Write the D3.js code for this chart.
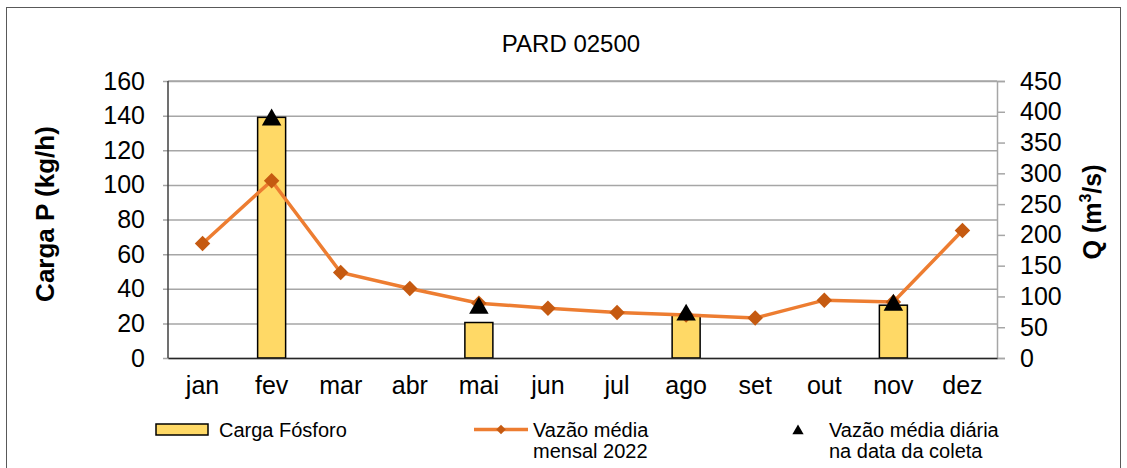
<!DOCTYPE html>
<html>
<head>
<meta charset="utf-8">
<script src="https://cdn.jsdelivr.net/npm/d3@7"></script>
<style>
  body { margin: 0; background: #fff; }
  text { font-family: Arial, "Liberation Sans", sans-serif; fill: #000; }
</style>
</head>
<body>
<div id="chart"></div>
<script>
// months on the x axis
const months = ['jan', 'fev', 'mar', 'abr', 'mai', 'jun', 'jul', 'ago', 'set', 'out', 'nov', 'dez'];
// carga de fósforo (kg/h), null where there was no sample
const carga = [null, 139, null, null, 20.5, null, null, 25, null, null, 30.5, null];
// vazão média mensal 2022 (m3/s)
const vazaoMensal = [186, 288, 139, 113, 89, 81, 74, 70, 65, 94, 91, 207];
// vazão média diária na data da coleta (m3/s)
const vazaoDiaria = [null, 387, null, null, 81, null, null, 70, null, null, 86, null];
const leftTicks = [0, 20, 40, 60, 80, 100, 120, 140, 160];
const rightTicks = [0, 50, 100, 150, 200, 250, 300, 350, 400, 450];

const W = 1127, H = 468;
const m = { left: 168, right: 130, top: 81, bottom: 110 };
const pw = W - m.left - m.right, ph = H - m.top - m.bottom;

const svg = d3.select('#chart').append('svg')
  .attr('width', W).attr('height', H);

// outer frame
svg.append('rect')
  .attr('x', 6.5).attr('y', 7.5).attr('width', 1114).attr('height', 470)
  .attr('fill', 'none').attr('stroke', '#595959').attr('stroke-width', 1);

svg.append('text')
  .attr('x', 571).attr('y', 52)
  .attr('text-anchor', 'middle')
  .style('font-size', '24px')
  .text('PARD 02500');

const g = svg.append('g').attr('transform', `translate(${m.left},${m.top})`);

const x = d3.scaleBand().domain(months).range([0, pw]);
const yL = d3.scaleLinear().domain([0, 160]).range([ph, 0]);
const yR = d3.scaleLinear().domain([0, 450]).range([ph, 0]);

// gridlines + left axis
const axL = g.append('g')
  .call(d3.axisLeft(yL).tickValues(leftTicks).tickSize(-pw).tickPadding(23));
axL.select('.domain').remove();
axL.selectAll('.tick line')
  .attr('x1', -5).attr('stroke', '#a6a6a6').attr('stroke-width', 1.5);
axL.selectAll('.tick text').style('font-size', '25px');

// right axis
const axR = g.append('g').attr('transform', `translate(${pw},0)`)
  .call(d3.axisRight(yR).tickValues(rightTicks).tickSize(8).tickPadding(15));
axR.select('.domain').attr('stroke', '#a6a6a6').attr('stroke-width', 1.5);
axR.selectAll('.tick line').attr('stroke', '#a6a6a6').attr('stroke-width', 1.5);
axR.selectAll('.tick text').style('font-size', '25px');

// plot border top + left
g.append('line').attr('x1', 0).attr('x2', pw).attr('y1', 0).attr('y2', 0)
  .attr('stroke', '#a6a6a6').attr('stroke-width', 1.5);
g.append('line').attr('x1', 0).attr('x2', 0).attr('y1', 0).attr('y2', ph)
  .attr('stroke', '#404040').attr('stroke-width', 1.5);

// bars
const bw = 28;
g.selectAll('rect.bar')
  .data(months.map((mo, i) => ({ mo, v: carga[i] })).filter(d => d.v != null))
  .enter().append('rect')
  .attr('class', 'bar')
  .attr('x', d => x(d.mo) + x.bandwidth() / 2 - bw / 2)
  .attr('y', d => yL(d.v))
  .attr('width', bw)
  .attr('height', d => yL(0) - yL(d.v))
  .attr('fill', '#ffd966')
  .attr('stroke', '#000').attr('stroke-width', 1.5);

// x axis
const axX = g.append('g').attr('transform', `translate(0,${ph})`)
  .call(d3.axisBottom(x).tickSize(0).tickPadding(18));
axX.select('.domain').attr('stroke', '#262626').attr('stroke-width', 1.5);
axX.selectAll('.tick text').style('font-size', '25px');

// line
const cx = d => x(d) + x.bandwidth() / 2;
const line = d3.line().x((d, i) => cx(months[i])).y(d => yR(d));
g.append('path').datum(vazaoMensal)
  .attr('d', line)
  .attr('fill', 'none').attr('stroke', '#ed7d31').attr('stroke-width', 3.5);

const diamond = d3.symbol().type(d3.symbolSquare).size(120);
g.selectAll('path.dia')
  .data(vazaoMensal)
  .enter().append('path')
  .attr('class', 'dia')
  .attr('d', diamond)
  .attr('transform', (d, i) => `translate(${cx(months[i])},${yR(d)}) rotate(45)`)
  .attr('fill', '#c55a11');

// triangles
const tri = d3.symbol().type(d3.symbolTriangle).size(165);
g.selectAll('path.tri')
  .data(months.map((mo, i) => ({ mo, v: vazaoDiaria[i] })).filter(d => d.v != null))
  .enter().append('path')
  .attr('class', 'tri')
  .attr('d', tri)
  .attr('transform', d => `translate(${cx(d.mo)},${yR(d.v)})`)
  .attr('fill', '#000');

// axis titles
svg.append('text')
  .attr('transform', 'translate(54,214) rotate(-90)')
  .attr('text-anchor', 'middle')
  .style('font-size', '26px').style('font-weight', 'bold')
  .text('Carga P (kg/h)');

const qt = svg.append('text')
  .attr('transform', 'translate(1101,212) rotate(-90)')
  .attr('text-anchor', 'middle')
  .style('font-size', '25px').style('font-weight', 'bold');
qt.append('tspan').text('Q (m');
qt.append('tspan').attr('dy', -10).style('font-size', '16px').text('3');
qt.append('tspan').attr('dy', 10).text('/s)');

// legend
const lg = svg.append('g');
lg.append('rect').attr('x', 156).attr('y', 424).attr('width', 52).attr('height', 11)
  .attr('fill', '#ffd966').attr('stroke', '#000').attr('stroke-width', 1.5);
lg.append('text').attr('x', 219).attr('y', 437).style('font-size', '20px').text('Carga Fósforo');

lg.append('line').attr('x1', 474).attr('x2', 528).attr('y1', 429.5).attr('y2', 429.5)
  .attr('stroke', '#ed7d31').attr('stroke-width', 3.5);
lg.append('path').attr('d', d3.symbol().type(d3.symbolSquare).size(45))
  .attr('transform', 'translate(501,429.5) rotate(45)').attr('fill', '#c55a11');
lg.append('text').attr('x', 533).attr('y', 437).style('font-size', '20px').text('Vazão média');
lg.append('text').attr('x', 533).attr('y', 458).style('font-size', '20px').text('mensal 2022');

lg.append('path').attr('d', d3.symbol().type(d3.symbolTriangle).size(55))
  .attr('transform', 'translate(798,431)').attr('fill', '#000');
lg.append('text').attr('x', 829).attr('y', 437).style('font-size', '20px').text('Vazão média diária');
lg.append('text').attr('x', 829).attr('y', 458).style('font-size', '20px').text('na data da coleta');
</script>
</body>
</html>
